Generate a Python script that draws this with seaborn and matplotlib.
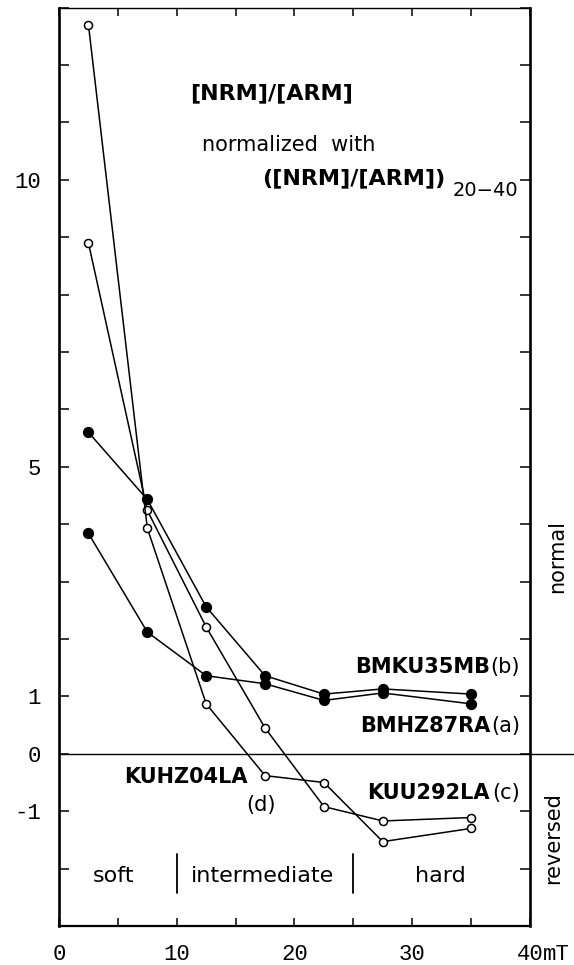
import pandas as pd
import matplotlib
matplotlib.use('Agg')
import matplotlib.pyplot as plt
import seaborn as sns

# AF demagnetizing field steps (mT)
field = [2.5, 7.5, 12.5, 17.5, 22.5, 27.5, 35]

# normalized [NRM]/[ARM] values
bmhz87ra = [3.84, 2.12, 1.36, 1.22, 0.93, 1.06, 0.87]   # (a) filled
bmku35mb = [5.60, 4.43, 2.56, 1.36, 1.04, 1.13, 1.04]   # (b) filled
kuu292la = [8.90, 4.24, 2.21, 0.45, -0.92, -1.17, -1.11]  # (c) open
kuhz04la = [12.70, 3.93, 0.87, -0.38, -0.50, -1.53, -1.30]  # (d) open

y_ticks = list(range(-3, 14))
y_labels = {-1: '-1', 0: '0', 1: '1', 5: '5', 10: '10'}
x_ticks = [0, 5, 10, 15, 20, 25, 30, 35, 40]
x_labels = {0: '0', 10: '10', 20: '20', 30: '30', 40: '40'}

sns.set_theme(style='ticks')
plt.rcParams['font.family'] = ['DejaVu Sans']
plt.rcParams['text.color'] = 'black'
plt.rcParams['xtick.color'] = 'black'
plt.rcParams['ytick.color'] = 'black'
plt.rcParams['axes.edgecolor'] = 'black'

fig = plt.figure(figsize=(5.74, 9.65), dpi=100)
ax = fig.add_axes([0.1028, 0.0404, 0.8205, 0.9518])

series = [
    (bmhz87ra, 'black', 7.0),
    (bmku35mb, 'black', 7.0),
    (kuu292la, 'white', 5.8),
    (kuhz04la, 'white', 5.8),
]
for vals, face, ms in series:
    df = pd.DataFrame({'field': field, 'ratio': vals})
    sns.lineplot(data=df, x='field', y='ratio', ax=ax, sort=False,
                 color='black', linewidth=1.1, marker='o', markersize=ms,
                 markerfacecolor=face, markeredgecolor='black',
                 markeredgewidth=1.1, zorder=3)

ax.set_xlim(0, 40)
ax.set_ylim(-3, 13)
ax.set_xlabel('')
ax.set_ylabel('')

# zero line running out past the right frame
ax.axhline(0, xmin=0, xmax=1.093, color='black', linewidth=1.0, clip_on=False)

mono = 'Liberation Mono'
ax.set_yticks(y_ticks)
ax.set_yticklabels([y_labels.get(t, '') for t in y_ticks], fontfamily=mono, fontsize=16)
ax.set_xticks(x_ticks)
ax.set_xticklabels([x_labels.get(t, '') for t in x_ticks], fontfamily=mono, fontsize=16)
ax.tick_params(axis='y', direction='in', length=7, width=1.1, right=True, pad=13,
               colors='black')
ax.tick_params(axis='x', direction='in', length=6, width=1.1, top=True, pad=13,
               colors='black')
ax.annotate('mT', xy=(40, 0), xycoords=('data', 'axes fraction'),
            xytext=(9.5, -13), textcoords='offset points',
            ha='left', va='top', fontfamily=mono, fontsize=16, color='black')

for side, lw in [('left', 1.9), ('bottom', 1.6), ('right', 1.9), ('top', 1.0)]:
    ax.spines[side].set_linewidth(lw)
    ax.spines[side].set_color('black')

# heading
ax.text(18.05, 11.51, '[NRM]/[ARM]', ha='center', va='center',
        fontsize=16, fontweight='bold', color='black')
ax.text(19.5, 10.61, 'normalized  with', ha='center', va='center', fontsize=15,
        color='black')
ax.text(32.78, 10.03, '([NRM]/[ARM])', ha='right', va='center',
        fontsize=16, fontweight='bold', color='black')
ax.text(33.4, 9.82, '20\u221240', ha='left', va='center', fontsize=14, color='black')

# sample labels
labels = [
    ('BMKU35MB', '(b)', 1.51),
    ('BMHZ87RA', '(a)', 0.48),
    ('KUU292LA', '(c)', -0.68),
]
for name, tag, yv in labels:
    ax.text(39.15, yv, tag, ha='right', va='center', fontsize=15, color='black')
    ax.text(36.6, yv, name, ha='right', va='center', fontsize=15,
            fontweight='bold', color='black')
ax.text(16.05, -0.40, 'KUHZ04LA', ha='right', va='center', fontsize=15,
        fontweight='bold', color='black')
ax.text(17.15, -0.89, '(d)', ha='center', va='center', fontsize=15, color='black')

# coercivity ranges
for name, xc in [('soft', 4.67), ('intermediate', 17.3), ('hard', 32.4)]:
    ax.text(xc, -2.13, name, ha='center', va='center', fontsize=16, color='black')
for xb in [10, 25]:
    ax.plot([xb, xb], [-1.74, -2.43], color='black', linewidth=1.3)

ax.text(42.3, 3.43, 'normal', rotation=90, ha='center', va='center',
        fontsize=15, clip_on=False, color='black')
ax.text(42.0, -1.47, 'reversed', rotation=90, ha='center', va='center',
        fontsize=15, clip_on=False, color='black')

fig.savefig('out.png', dpi=100, facecolor='white')
plt.close(fig)
